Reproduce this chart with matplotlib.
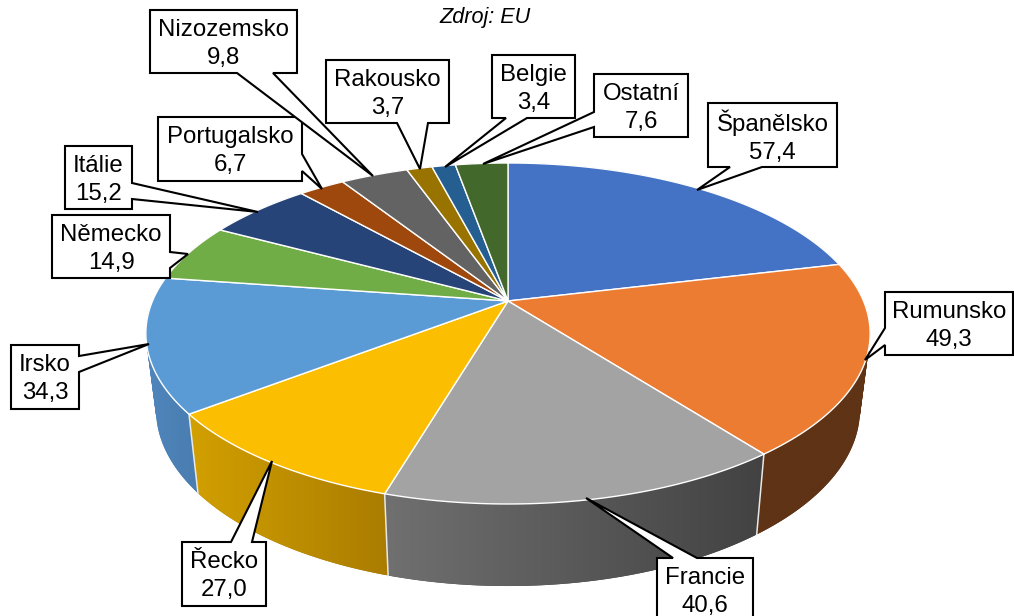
import matplotlib
matplotlib.use('Agg')
import matplotlib.pyplot as plt
from matplotlib.colors import LinearSegmentedColormap
from matplotlib.patches import PathPatch
from matplotlib.path import Path
import numpy as np

plt.rcParams['font.family'] = ['Liberation Sans', 'DejaVu Sans']

# Data, clockwise from 12 o'clock
countries = ['Španělsko', 'Rumunsko', 'Francie', 'Řecko', 'Irsko', 'Německo',
             'Itálie', 'Portugalsko', 'Nizozemsko', 'Rakousko', 'Belgie', 'Ostatní']
values = [57.4, 49.3, 40.6, 27.0, 34.3, 14.9, 15.2, 6.7, 9.8, 3.7, 3.4, 7.6]
top_colors = ['#4472C4', '#EB7C31', '#A3A3A3', '#FBBE00', '#5B9BD5', '#70AD47',
              '#264478', '#9E480E', '#636363', '#997300', '#255E91', '#43682B']
wall_left = ['#27477F', '#5F3315', '#707070', '#D2A000', '#4F86BC', '#4A7530',
             '#182C4E', '#672F09', '#404040', '#644B00', '#183D5E', '#2B441C']
wall_right = ['#27477F', '#5F3315', '#424242', '#AA7C00', '#4A7DB0', '#4A7530',
              '#182C4E', '#672F09', '#404040', '#644B00', '#183D5E', '#2B441C']

# label box: x0, y0, x1, y1, side the pointer leaves from, two base points, tip
callouts = {
    'Portugalsko': ((158, 117, 302, 181), 'right', 154, 171, (322, 189)),
    'Nizozemsko': ((150, 10, 297, 73), 'bottom', 237, 273, (373, 176)),
    'Rakousko': ((326, 60, 449, 123), 'bottom', 397, 428, (420, 169)),
    'Itálie': ((65, 146, 132, 209), 'right', 183, 199, (258, 212)),
    'Německo': ((52, 215, 170, 278), 'right', 252, 268, (188, 254)),
    'Belgie': ((492, 55, 575, 118), 'bottom', 506, 527, (445, 167)),
    'Ostatní': ((594, 74, 688, 137), 'left', 112, 127, (483, 164)),
    'Španělsko': ((708, 103, 837, 167), 'bottom', 730, 762, (697, 190)),
    'Rumunsko': ((885, 292, 1013, 355), 'left', 328, 345, (865, 360)),
    'Irsko': ((11, 345, 79, 409), 'right', 356, 372, (149, 344)),
    'Řecko': ((182, 542, 266, 606), 'top', 231, 252, (272, 461)),
    'Francie': ((657, 558, 753, 622), 'top', 673, 697, (586, 498)),
}


def project_top(ang):
    # perspective view of the pie lid, angle clockwise from the top
    u, v = np.sin(ang), np.cos(ang)
    w = 1 + 0.1906 * v
    return 508 + 355.5 * u / w, 301 - 164.3 * v / w


def project_bottom(ang):
    u, v = np.sin(ang), np.cos(ang)
    w = 1 + 0.1906 * v
    return 508 + 345.5 * u / w, 376 - 170.0 * v / w


def wall_path(xt, yt, xb, yb):
    # one quad per step, all wound the same way so folds at the sides stay filled
    quads = []
    for j in range(len(xt) - 1):
        q = np.array([[xt[j], yt[j]], [xt[j + 1], yt[j + 1]],
                      [xb[j + 1], yb[j + 1]], [xb[j], yb[j]]])
        area = np.sum(q[:, 0] * np.roll(q[:, 1], -1) - np.roll(q[:, 0], -1) * q[:, 1])
        if area < 0:
            q = q[::-1]
        quads.append(Path(np.vstack([q, q[:1]]), closed=True))
    return Path.make_compound_path(*quads)


fig = plt.figure(figsize=(10.14, 6.16), dpi=100)
ax = fig.add_axes([0, 0, 1, 1])

edges = np.radians(np.concatenate([[0], np.cumsum(values)]) / sum(values) * 360)

# Side wall, a horizontal gradient clipped to the shape of each slice
for i in range(len(values)):
    a = np.linspace(edges[i], edges[i + 1], 120)
    xt, yt = project_top(a)
    xb, yb = project_bottom(a)
    shape = PathPatch(wall_path(xt, yt, xb, yb), facecolor=wall_right[i],
                      edgecolor='none', zorder=1)
    ax.add_patch(shape)
    xs = np.r_[xt, xb]
    ys = np.r_[yt, yb]
    cmap = LinearSegmentedColormap.from_list('wall', [wall_left[i], wall_right[i]])
    im = ax.imshow(np.linspace(0, 1, 256)[None, :], cmap=cmap, aspect='auto',
                   extent=(xs.min(), xs.max(), ys.max(), ys.min()), zorder=1.5)
    im.set_clip_path(shape)

# Wall seams between the front slices
for e in edges[1:-1]:
    if np.cos(e) < 0:
        xt, yt = project_top(e)
        xb, yb = project_bottom(e)
        ax.plot([xt, xb], [yt, yb], color='#E8E8E8', lw=1.1, zorder=2)

# Lid
for i in range(len(values)):
    a = np.linspace(edges[i], edges[i + 1], 200)
    x, y = project_top(a)
    ax.fill(np.r_[508, x], np.r_[301, y], facecolor=top_colors[i],
            edgecolor='white', linewidth=1.0, joinstyle='round', zorder=3)

# Labels
for name, (box, side, b1, b2, tip) in callouts.items():
    x0, y0, x1, y1 = box
    if side == 'top':
        pts = [(x0, y0), (b1, y0), tip, (b2, y0), (x1, y0), (x1, y1), (x0, y1)]
    elif side == 'right':
        pts = [(x0, y0), (x1, y0), (x1, b1), tip, (x1, b2), (x1, y1), (x0, y1)]
    elif side == 'bottom':
        pts = [(x0, y0), (x1, y0), (x1, y1), (b2, y1), tip, (b1, y1), (x0, y1)]
    else:
        pts = [(x0, y0), (x1, y0), (x1, y1), (x0, y1), (x0, b2), tip, (x0, b1)]
    ax.fill(*zip(*pts), facecolor='white', edgecolor='black', linewidth=1.5,
            joinstyle='miter', zorder=4)
    val = f'{values[countries.index(name)]:.1f}'.replace('.', ',')
    ax.text((x0 + x1) / 2, y0 + 34, f'{name}\n{val}', ha='center', va='center',
            fontsize=17.3, linespacing=1.36, color='black', zorder=5)

ax.text(485, 18, 'Zdroj: EU', ha='center', va='center', fontsize=15.6,
        style='italic', color='black')

ax.set_xlim(0, 1014)
ax.set_ylim(616, 0)
ax.axis('off')

fig.savefig('out.png', dpi=100)
